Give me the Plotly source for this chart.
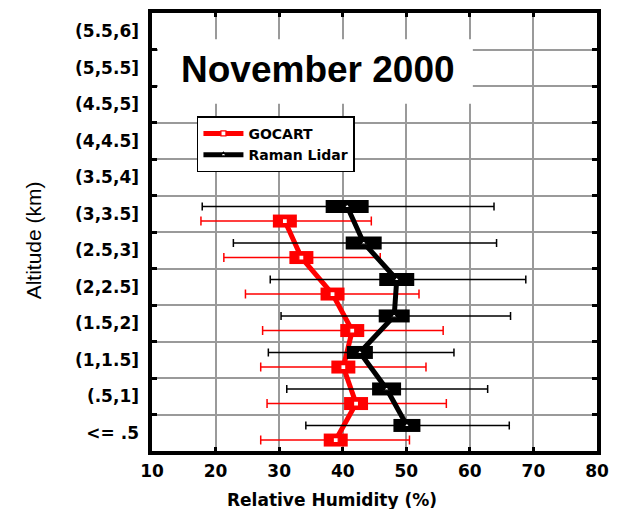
import plotly.graph_objects as go

# Altitude bins (bottom to top)
altitude_bins = ["<= .5", "(.5,1]", "(1,1.5]", "(1.5,2]", "(2,2.5]", "(2.5,3]",
                 "(3,3.5]", "(3.5,4]", "(4,4.5]", "(4.5,5]", "(5,5.5]", "(5.5,6]"]

# GOCART relative humidity (%) per bin: mean and error-bar bounds
gocart_mean = [38.9, 42.1, 40.1, 41.5, 38.4, 33.5, 30.9]
gocart_low = [27.1, 28.1, 27.1, 27.4, 24.7, 21.3, 17.7]
gocart_high = [50.5, 56.3, 53.1, 55.8, 52.0, 45.9, 44.5]

# Raman Lidar relative humidity (%) per bin
lidar_mean = [50.1, 46.9, 42.7, 48.1, 48.5, 43.3, 40.7]
lidar_low = [34.2, 31.2, 28.3, 30.3, 28.6, 22.8, 17.9]
lidar_high = [66.2, 62.8, 57.5, 66.4, 68.8, 64.2, 63.8]

x_ticks = [10, 20, 30, 40, 50, 60, 70, 80]

# styling
RED = "#ff0000"
BLACK = "#000000"
GRID = "#9a9a9a"
OFFSET = 0.2            # vertical shift of each series inside a bin
BOX_H = 13              # height of the box markers (px)
gocart_box_w = 24       # width of GOCART boxes (px)
lidar_box_w = [27, 29, 26, 31, 35, 36, 43]
EW = 1.4                # line-ew path spans 1.4 * size

n = len(gocart_mean)
y_gocart = [i - OFFSET for i in range(n)]
y_lidar = [i + OFFSET for i in range(n)]

fig = go.Figure()


def add_series(name, mean, low, high, ys, color, box_w, center_symbol, cap):
    plus = [h - m for h, m in zip(high, mean)]
    minus = [m - l for m, l in zip(mean, low)]
    sizes = [w / EW for w in box_w] if isinstance(box_w, list) else box_w / EW
    # wide box markers
    fig.add_trace(go.Scatter(
        x=mean, y=ys, mode="markers", showlegend=False, hoverinfo="skip",
        marker=dict(symbol="line-ew", size=sizes, color=color, opacity=1,
                    line=dict(color=color, width=BOX_H)),
    ))
    # profile line, error bars and small hollow centre markers
    fig.add_trace(go.Scatter(
        x=mean, y=ys, mode="lines+markers", name=name,
        line=dict(color=color, width=5),
        marker=dict(symbol=center_symbol, size=5, color="white", opacity=1,
                    line=dict(color=color, width=1.2)),
        error_x=dict(type="data", symmetric=False, array=plus, arrayminus=minus,
                     color=color, thickness=1.5, width=cap),
    ))


add_series("GOCART", gocart_mean, gocart_low, gocart_high, y_gocart, RED,
           gocart_box_w, "square", 4.5)
add_series("Raman Lidar", lidar_mean, lidar_low, lidar_high, y_lidar, BLACK,
           lidar_box_w, "triangle-up", 4)

# empty trace on the overlay axis so it gets drawn
fig.add_trace(go.Scatter(x=[None], y=[None], yaxis="y2", showlegend=False,
                         hoverinfo="skip"))

n_bins = len(altitude_bins)
tick_font = dict(family="DejaVu Sans", size=17, color=BLACK, weight="bold")

fig.update_layout(
    width=619, height=509,
    margin=dict(l=152, r=22, t=9, b=58),
    paper_bgcolor="white", plot_bgcolor="white",
    xaxis=dict(
        range=[10, 80], tickmode="array", tickvals=x_ticks,
        ticktext=[str(v) for v in x_ticks],
        showgrid=True, gridcolor=GRID, gridwidth=1.5,
        zeroline=False, showline=True, linecolor=BLACK, linewidth=3.5,
        mirror="ticks", ticks="inside", ticklen=4, tickwidth=2.5,
        tickcolor=BLACK, tickfont=tick_font, ticklabelstandoff=2,
    ),
    yaxis=dict(
        range=[-0.5, n_bins - 0.5], tickmode="array",
        tickvals=[i + 0.5 for i in range(n_bins - 1)],
        showticklabels=False,
        showgrid=True, gridcolor=GRID, gridwidth=1.5,
        zeroline=False, showline=True, linecolor=BLACK, linewidth=3.5,
        mirror="ticks", ticks="inside", ticklen=5, tickwidth=2.5,
        tickcolor=BLACK,
    ),
    yaxis2=dict(
        overlaying="y", side="left", anchor="x",
        range=[-0.5, n_bins - 0.5], tickmode="array",
        tickvals=list(range(n_bins)), ticktext=altitude_bins,
        showgrid=False, zeroline=False, showline=False, ticks="",
        tickfont=tick_font, ticklabelstandoff=12,
    ),
    legend=dict(
        x=0.101, y=0.764, xanchor="left", yanchor="top",
        bgcolor="white", bordercolor=BLACK, borderwidth=1.5,
        font=dict(family="DejaVu Sans", size=14, color=BLACK, weight="bold"),
        itemwidth=40, tracegroupgap=0,
    ),
    shapes=[dict(
        type="rect", xref="paper", yref="paper", layer="above",
        x0=0.0135, x1=0.721, y0=0.793, y1=0.94,
        fillcolor="white", line=dict(width=0),
    )],
    annotations=[
        dict(text="November 2000", xref="paper", yref="paper",
             x=0.372, y=0.872, xanchor="center", yanchor="middle",
             showarrow=False,
             font=dict(family="Liberation Sans", size=37, color=BLACK,
                       weight="bold")),
        dict(text="Relative Humidity (%)", xref="paper", yref="paper",
             x=0.4045, y=-0.112, xanchor="center", yanchor="middle",
             showarrow=False,
             font=dict(family="DejaVu Sans", size=17, color=BLACK,
                       weight="bold")),
        dict(text="Altitude (km)", xref="paper", yref="paper",
             x=-0.2674, y=0.481, xanchor="center", yanchor="middle",
             textangle=-90, showarrow=False,
             font=dict(family="Liberation Sans", size=21, color=BLACK)),
    ],
    showlegend=True,
)

fig.write_html("out.html")
